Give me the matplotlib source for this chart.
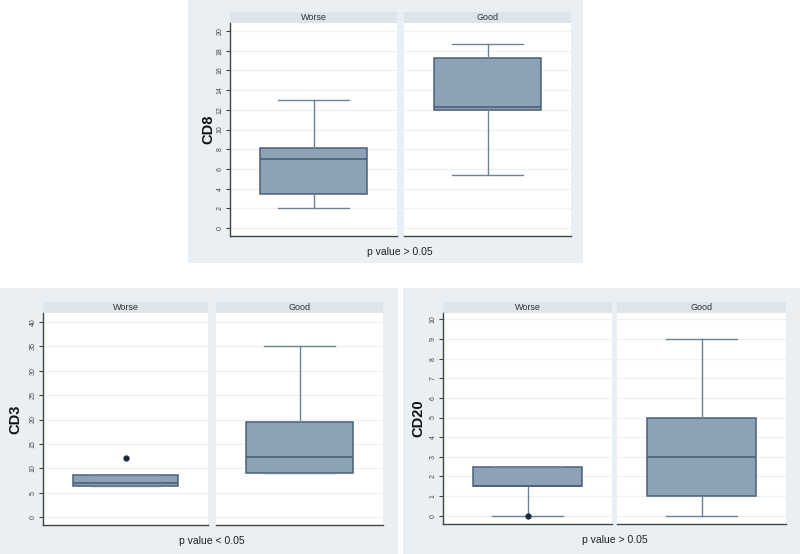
import matplotlib
matplotlib.use('Agg')
import matplotlib.pyplot as plt
from matplotlib.patches import Rectangle

plt.rcParams['font.family'] = ['Liberation Sans', 'DejaVu Sans']

W, H = 800, 554

# group labels
groups = ['Worse', 'Good']

# CD8 box stats (q1, median, q3, whisker low, whisker high)
cd8_worse = [3.5, 7.0, 8.1, 2.0, 13.0]
cd8_good = [12.0, 12.3, 17.3, 5.4, 18.7]
cd8_fliers = [[], []]

# CD3
cd3_worse = [6.5, 7.0, 8.6, 6.5, 8.6]
cd3_good = [9.1, 12.3, 19.5, 9.1, 35.1]
cd3_fliers = [[12.2], []]

# CD20
cd20_worse = [1.5, 1.5, 2.5, 0.0, 2.5]
cd20_good = [1.0, 3.0, 5.0, 0.0, 9.0]
cd20_fliers = [[0.0], []]

pvals = ['p value > 0.05', 'p value < 0.05', 'p value > 0.05']

BG = '#e9eff2'
STRIP = '#dbe5eb'
FILL = '#8ea2b6'
EDGE = '#4b6079'
WHISK = '#6c8298'
GRID = '#eef1f3'

fig = plt.figure(figsize=(8, 5.54), dpi=100)


def rect(x0, y0, x1, y1):
    return [x0 / W, 1 - y1 / H, (x1 - x0) / W, (y1 - y0) / H]


def panel(bg, xs, ytop, ybot, strip_top, ylim, ticks, label, label_x, stats, fliers, ptext, pt_xy):
    fig.patches.append(Rectangle((bg[0] / W, 1 - bg[3] / H), (bg[2] - bg[0]) / W, (bg[3] - bg[1]) / H,
                                 transform=fig.transFigure, facecolor=BG, edgecolor='none', zorder=-3))
    for i, (x0, x1) in enumerate(xs):
        # strip header
        fig.patches.append(Rectangle((x0 / W, 1 - ytop / H), (x1 - x0) / W, (ytop - strip_top) / H,
                                     transform=fig.transFigure, facecolor=STRIP, edgecolor='none', zorder=-2))
        fig.text((x0 + x1) / 2 / W, 1 - (strip_top + ytop) / 2 / H, groups[i], ha='center', va='center',
                 fontsize=6.5, color='#333333')
        ax = fig.add_axes(rect(x0, ytop, x1, ybot))
        q1, med, q3, lo, hi = stats[i]
        st = [dict(q1=q1, med=med, q3=q3, whislo=lo, whishi=hi, fliers=fliers[i])]
        ax.bxp(st, positions=[0.5], widths=0.64, capwidths=0.42, patch_artist=True,
               boxprops=dict(facecolor=FILL, edgecolor=EDGE, linewidth=1.1),
               medianprops=dict(color=EDGE, linewidth=1.2),
               whiskerprops=dict(color=WHISK, linewidth=1.0),
               capprops=dict(color=WHISK, linewidth=1.0),
               flierprops=dict(marker='o', markerfacecolor='#1a2a44', markeredgecolor='#1a2a44', markersize=3.5))
        ax.set_xlim(0, 1)
        ax.set_ylim(*ylim)
        ax.set_yticks(ticks)
        ax.set_xticks([])
        for t in ticks:
            ax.axhline(t, color=GRID, linewidth=0.8, zorder=0)
        ax.set_facecolor('white')
        for s in ['top', 'right']:
            ax.spines[s].set_visible(False)
        ax.spines['bottom'].set_color('#444444')
        ax.spines['bottom'].set_linewidth(1.0)
        if i == 0:
            ax.spines['left'].set_color('#444444')
            ax.spines['left'].set_linewidth(1.0)
            ax.tick_params(axis='y', length=3, width=0.8, color='#444444', labelsize=5,
                           labelcolor='#444444', pad=1.5)
            for lab in ax.get_yticklabels():
                lab.set_rotation(90)
                lab.set_va('center')
                lab.set_ha('right')
        else:
            ax.spines['left'].set_visible(False)
            ax.tick_params(axis='y', left=False, labelleft=False)
    fig.text(label_x / W, 1 - (ytop + ybot) / 2 / H, label, rotation=90, ha='center', va='center',
             fontsize=10.5, fontweight='bold', color='#111111')
    fig.text(pt_xy[0] / W, 1 - pt_xy[1] / H, ptext, ha='center', va='center', fontsize=7.5, color='#222222')


panel((188, 0, 583, 263), [(230, 397), (404, 571)], 23, 236, 12, (-0.81, 20.81), list(range(0, 21, 2)),
      'CD8', 208, [cd8_worse, cd8_good], cd8_fliers, pvals[0], (400, 252))

panel((0, 288, 398, 554), [(43, 208), (216, 383)], 313, 525, 302, (-1.57, 41.78), list(range(0, 41, 5)),
      'CD3', 15, [cd3_worse, cd3_good], cd3_fliers, pvals[1], (212, 541))

panel((403, 288, 800, 554), [(443, 612), (617, 786)], 313, 524, 302, (-0.42, 10.32), list(range(0, 11)),
      'CD20', 418, [cd20_worse, cd20_good], cd20_fliers, pvals[2], (615, 540))

fig.savefig('out.png', dpi=100)
